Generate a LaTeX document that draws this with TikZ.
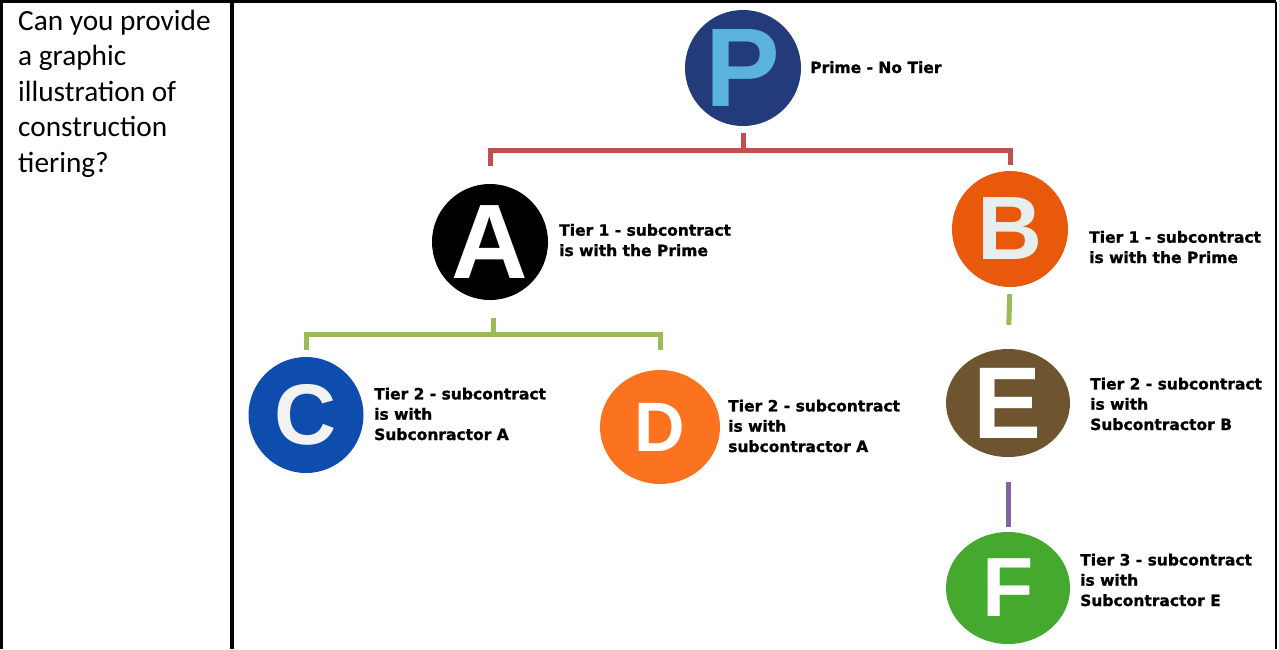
\documentclass[tikz,border=0pt]{standalone}
\usepackage{fontspec}
\setmainfont{Carlito}
\newfontfamily\labelfont{DejaVu Sans}[BoldFeatures={FakeBold=1.2}]
\newfontfamily\letterfont{Liberation Sans}
\usetikzlibrary{shapes.geometric}

\definecolor{primenavy}{HTML}{233A7B}
\definecolor{primesky}{HTML}{5BB3DC}
\definecolor{borange}{HTML}{E8590C}
\definecolor{bpale}{HTML}{E6EEEE}
\definecolor{cblue}{HTML}{0E4DAE}
\definecolor{dorange}{HTML}{FB731E}
\definecolor{ebrown}{HTML}{6F5430}
\definecolor{fgreen}{HTML}{45A82F}
\definecolor{tierred}{HTML}{C0504D}
\definecolor{tiergreen}{HTML}{9BBB59}
\definecolor{tierpurple}{HTML}{8064A2}

\newcommand{\bigletter}[1]{\letterfont\bfseries\fontsize{#1}{#1}\selectfont}

\tikzset{
  badge/.style={ellipse, inner sep=0pt, text=white},
  tierlabel/.style={anchor=base west, align=left, inner sep=0pt,
    font=\labelfont\bfseries\fontsize{15.5}{20.3}\selectfont},
  tierline/.style={draw=#1, line width=5pt}
}

\begin{document}
\begin{tikzpicture}[x=1pt, y=-1pt]
    \useasboundingbox (0,0) rectangle (1279,649);
    % table frame
    \draw[line width=3pt] (1.5,649) -- (1.5,1.5) -- (1276,1.5);
    \draw[line width=2pt] (1276,1.5) -- (1276,649);
    \draw[line width=3.3pt] (232,1.5) -- (232,649);
    % anchored at the baseline of the last line
    \node[anchor=base west, align=left, inner sep=0pt, font=\fontsize{29.3}{35.5}\selectfont] (question) at (18,172)
        {Can you provide\\a graphic\\illustration of\\construction\\tiering?};

    % tiers
    \node[badge, fill=primenavy, text=primesky, minimum width=116pt, minimum height=116pt, font=\bigletter{112}] (P) at (743,68) {P};
    \node[badge, fill=black, minimum width=116pt, minimum height=116pt, font=\bigletter{106}] (A) at (490,242) {A};
    \node[badge, fill=borange, text=bpale, minimum width=116pt, minimum height=116pt, font=\bigletter{90}] (B) at (1010,229) {B};
    \node[badge, fill=cblue, text=white!95!black, minimum width=115pt, minimum height=116pt, font=\bigletter{86}] (C) at (306,415) {C};
    \node[badge, fill=dorange, minimum width=120pt, minimum height=114pt, font=\bigletter{70}] (D) at (660,427) {D};
    \node[badge, fill=ebrown, minimum width=124pt, minimum height=108pt, font=\bigletter{102}] (E) at (1008,403) {E};
    \node[badge, fill=fgreen, minimum width=124pt, minimum height=112pt, font=\bigletter{84}] (F) at (1008,588) {F};

    \node[tierlabel] (Plabel) at (810,73) {Prime - No Tier};
    \node[tierlabel] (Alabel) at (559,256) {Tier 1 - subcontract\\is with the Prime};
    \node[tierlabel] (Blabel) at (1089,263) {Tier 1 - subcontract\\is with the Prime};
    \node[tierlabel] (Clabel) at (374,440) {Tier 2 - subcontract\\is with\\Subconractor A};
    \node[tierlabel] (Dlabel) at (728,452) {Tier 2 - subcontract\\is with\\subcontractor A};
    \node[tierlabel] (Elabel) at (1090,430) {Tier 2 - subcontract\\is with\\Subcontractor B};
    \node[tierlabel] (Flabel) at (1080,606) {Tier 3 - subcontract\\is with\\Subcontractor E};

    % connectors
    \draw[tierline=tierred] (P.south) ++(0,7) -- ++(0,17) coordinate (pfork);
    \draw[tierline=tierred, shorten >=18pt] (pfork) -| (A.north);
    \draw[tierline=tierred, shorten >=6pt] (pfork) -| (B.north);
    \draw[tierline=tiergreen] (A.south) ++(3,18) -- ++(0,16) coordinate (afork);
    \draw[tierline=tiergreen, shorten >=7pt] (afork) -| (C.north);
    \draw[tierline=tiergreen, shorten >=20pt] (afork) -| (D.north);
    \draw[tierline=tiergreen, shorten <=7pt, shorten >=24pt] (B.south) -- (E.north);
    \draw[tierline=tierpurple, shorten <=25pt, shorten >=5pt] (E.south) -- (F.north);
\end{tikzpicture}
\end{document}
